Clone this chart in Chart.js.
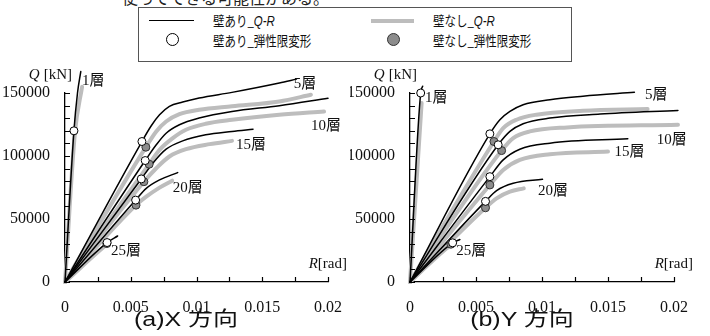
<!DOCTYPE html>
<html lang="ja">
<head>
<meta charset="utf-8">
<script src="https://cdn.jsdelivr.net/npm/chart.js@4.4.1/dist/chart.umd.min.js"></script>
<style>
    html, body { margin: 0; padding: 0; background: #fff; }
    #page { position: relative; width: 710px; height: 336px; overflow: hidden; font-family: 'Noto Sans CJK JP', sans-serif; color: #111; }
    #page canvas { position: absolute; top: 0; }
    #chartX { left: 0; }
    #chartY { left: 350px; }
    .cut { position: absolute; left: 122px; top: -15px; font-size: 16px; white-space: nowrap; color: #222; }
    #legend { position: absolute; left: 138px; top: 7px; width: 434px; height: 55px; box-sizing: border-box; border: 1px solid #555; background: #fff; }
    #legend .row { position: absolute; left: 0; right: 0; height: 20px; }
    #legend .txt { position: absolute; top: 0; line-height: 20px; font-size: 14px; white-space: nowrap; transform: scaleX(0.82); transform-origin: left center; }
    #legend .txt i { font-family: 'Liberation Sans', sans-serif; }
    #legend .ln { position: absolute; top: 10px; }
    #legend .dot { position: absolute; top: 3px; width: 13px; height: 13px; border-radius: 50%; box-sizing: border-box; }
    .title { position: absolute; top: 306px; width: 200px; text-align: center; font-family: 'Liberation Sans', 'Noto Sans CJK JP', sans-serif; font-size: 20px; line-height: 26px; transform: scaleX(1.25); white-space: nowrap; }
</style>
</head>
<body>
<div id="page">
    <div class="cut">使ってできる可能性がある。</div>
    <canvas id="chartX" width="350" height="336"></canvas>
    <canvas id="chartY" width="360" height="336"></canvas>
    <div id="legend">
        <div class="row" style="top:2px">
            <span class="ln" style="left:10px;width:45px;border-top:1.5px solid #000"></span>
            <span class="txt" style="left:74px">壁あり_<i>Q-R</i></span>
            <span class="ln" style="left:232px;width:43px;border-top:4px solid #bdbdbd;margin-top:-1px"></span>
            <span class="txt" style="left:294px">壁なし_<i>Q-R</i></span>
        </div>
        <div class="row" style="top:22px">
            <span class="dot" style="left:27px;background:#fff;border:1px solid #000"></span>
            <span class="txt" style="left:74px">壁あり_弾性限変形</span>
            <span class="dot" style="left:248px;background:#8c8c8c;border:1px solid #333"></span>
            <span class="txt" style="left:294px">壁なし_弾性限変形</span>
        </div>
    </div>
    <div class="title" style="left:86px">(a)X 方向</div>
    <div class="title" style="left:422px">(b)Y 方向</div>
</div>

<script>
// Q-R曲線 (R[rad], Q[kN]) - X方向
const X_WALL_1F = [[0, 0], [0.00068, 120000], [0.00095, 150000], [0.0012, 167000]];
const X_BARE_1F = [[0, 0], [0.00075, 118000], [0.0013, 155000]];
const X_WALL_5F = [[0, 0], [0.00585, 111500], [0.00656, 124000], [0.00719, 132700], [0.00794, 139400], [0.00895, 142800], [0.0102, 146000], [0.0127, 150500], [0.0163, 157900], [0.0176, 161000]];
const X_BARE_5F = [[0, 0], [0.00615, 107000], [0.00694, 119500], [0.00769, 127400], [0.0087, 133200], [0.0102, 136700], [0.0127, 139500], [0.0163, 143300], [0.0187, 148600]];
const X_WALL_10F = [[0, 0], [0.0061, 96400], [0.00694, 108900], [0.00769, 118100], [0.0087, 124800], [0.0102, 130100], [0.0127, 135300], [0.0163, 139900], [0.02, 145800]];
const X_BARE_10F = [[0, 0], [0.0064, 93500], [0.00719, 104900], [0.0082, 114200], [0.0092, 120800], [0.0107, 125600], [0.0127, 128700], [0.0163, 132700], [0.0197, 135300]];
const X_WALL_15F = [[0, 0], [0.0058, 81800], [0.00668, 94300], [0.00769, 105400], [0.00895, 112000], [0.0107, 116800], [0.0127, 119500], [0.0143, 121300]];
const X_BARE_15F = [[0, 0], [0.006, 79600], [0.00694, 90300], [0.00794, 99600], [0.0092, 105400], [0.011, 109400], [0.0127, 112000]];
const X_WALL_20F = [[0, 0], [0.00537, 65000], [0.00618, 74300], [0.00719, 81000], [0.00857, 86800]];
const X_BARE_20F = [[0, 0], [0.0054, 61000], [0.00618, 67700], [0.00719, 74900], [0.00815, 80400]];
const X_WALL_25F = [[0, 0], [0.0032, 31300], [0.004, 36500]];
const X_BARE_25F = [[0, 0], [0.00315, 29500], [0.0034, 31500]];

// 弾性限変形 - X方向
const X_WALL_YIELD = [[0.00068, 120000], [0.00585, 111500], [0.0061, 96400], [0.0058, 81800], [0.00537, 65000], [0.0032, 31300]];
const X_BARE_YIELD = [[0.00615, 107000], [0.0064, 93500], [0.006, 79600], [0.0054, 61000], [0.00318, 30500]];

// Q-R曲線 - Y方向
const Y_WALL_1F = [[0, 0], [0.00081, 150000], [0.00096, 155300]];
const Y_BARE_1F = [[0, 0], [0.00088, 142000]];
const Y_WALL_5F = [[0, 0], [0.00605, 117600], [0.00681, 128800], [0.00757, 135400], [0.00857, 140700], [0.0106, 144700], [0.0131, 147400], [0.017, 150500]];
const Y_BARE_5F = [[0, 0], [0.00636, 111500], [0.00706, 122100], [0.00807, 128800], [0.00958, 132800], [0.0131, 135900], [0.018, 137300]];
const Y_WALL_10F = [[0, 0], [0.00668, 108900], [0.00757, 119500], [0.00857, 125600], [0.0106, 130100], [0.0144, 133300], [0.0203, 136200]];
const Y_BARE_10F = [[0, 0], [0.00694, 104300], [0.00782, 114200], [0.00908, 119500], [0.0119, 122700], [0.0203, 124800]];
const Y_WALL_15F = [[0, 0], [0.00605, 83600], [0.00706, 96900], [0.00832, 105400], [0.0106, 110200], [0.0165, 113600]];
const Y_BARE_15F = [[0, 0], [0.00605, 77000], [0.00706, 88900], [0.00832, 96900], [0.0106, 101400], [0.015, 103500]];
const Y_WALL_20F = [[0, 0], [0.00572, 64000], [0.00656, 72500], [0.00782, 78300], [0.01004, 81500]];
const Y_BARE_20F = [[0, 0], [0.00572, 58900], [0.00656, 66400], [0.00757, 71700], [0.00862, 74300]];
const Y_WALL_25F = [[0, 0], [0.00323, 31100], [0.00378, 33700]];
const Y_BARE_25F = [[0, 0], [0.0031, 29500], [0.0033, 30800]];

// 弾性限変形 - Y方向
const Y_WALL_YIELD = [[0.00081, 150000], [0.00605, 117600], [0.00668, 108900], [0.00605, 83600], [0.00572, 64000], [0.00323, 31100]];
const Y_BARE_YIELD = [[0.00636, 111500], [0.00694, 104300], [0.00605, 77000], [0.00572, 58900], [0.0031, 30000]];

// 階ラベル (文字, 左端R, 中心Q)
const FLOOR_TEXT = ['1層', '5層', '10層', '15層', '20層', '25層'];
const X_TAG_R = [0.00129, 0.0174, 0.0187, 0.013, 0.0082, 0.0035];
const X_TAG_Q = [159200, 157400, 123400, 108800, 74600, 24700];
const Y_TAG_R = [0.00114, 0.0178, 0.0187, 0.0155, 0.0097, 0.0035];
const Y_TAG_Q = [146000, 148600, 112800, 103500, 72400, 24700];

// 軸目盛
const R_MAX = 0.02;
const R_STEP = 0.0025;
const R_LABEL_STEP = 0.005;
const Q_MAX = 150000;
const Q_STEP = 10000;
const Q_LABEL_STEP = 50000;

const SERIF = "'Liberation Serif', 'Noto Sans CJK JP', serif";
const WALL_COLOR = '#000';
const BARE_COLOR = '#bdbdbd';

function toPoints(pairs) {
    return pairs.map(p => ({ x: p[0], y: p[1] }));
}

function lineSet(pairs, color, width, order) {
    return {
        data: toPoints(pairs),
        showLine: true,
        borderColor: color,
        borderWidth: width,
        pointRadius: 0,
        tension: 0.4,
        cubicInterpolationMode: 'monotone',
        borderCapStyle: 'round',
        clip: false,
        order
    };
}

function dotSet(pairs, fill, stroke) {
    return {
        data: toPoints(pairs),
        showLine: false,
        pointRadius: 4,
        pointBackgroundColor: fill,
        pointBorderColor: stroke,
        pointBorderWidth: 1,
        clip: false,
        order: 0
    };
}

const axisDecor = {
    id: 'axisDecor',
    afterDraw(chart) {
        const { ctx, chartArea, scales } = chart;
        const x = scales.x;
        const y = scales.y;
        ctx.save();
        ctx.strokeStyle = '#000';
        ctx.lineWidth = 1.2;
        ctx.beginPath();
        x.ticks.forEach(t => {
            const px = Math.round(x.getPixelForValue(t.value)) + 0.5;
            ctx.moveTo(px, chartArea.bottom);
            ctx.lineTo(px, chartArea.bottom - 5);
        });
        y.ticks.forEach(t => {
            const py = Math.round(y.getPixelForValue(t.value)) + 0.5;
            ctx.moveTo(chartArea.left, py);
            ctx.lineTo(chartArea.left + 5, py);
        });
        ctx.stroke();

        ctx.fillStyle = '#111';
        ctx.textBaseline = 'middle';
        ctx.textAlign = 'right';
        // Q [kN]
        ctx.font = '15px ' + SERIF;
        const qEnd = chartArea.left + 7;
        const unitW = ctx.measureText('[kN]').width;
        ctx.fillText('[kN]', qEnd, chartArea.top - 18);
        ctx.font = 'italic 15px ' + SERIF;
        ctx.fillText('Q', qEnd - unitW - 4, chartArea.top - 18);
        // R[rad]
        ctx.font = '15px ' + SERIF;
        const rEnd = chartArea.right + 19;
        const radW = ctx.measureText('[rad]').width;
        ctx.fillText('[rad]', rEnd, chartArea.bottom - 18);
        ctx.font = 'italic 15px ' + SERIF;
        ctx.fillText('R', rEnd - radW, chartArea.bottom - 18);
        ctx.restore();
    }
};

function floorTags(rs, qs) {
    return {
        id: 'floorTags',
        afterDatasetsDraw(chart) {
            const { ctx, scales } = chart;
            ctx.save();
            ctx.font = '15px ' + SERIF;
            ctx.fillStyle = '#111';
            ctx.textAlign = 'left';
            ctx.textBaseline = 'middle';
            FLOOR_TEXT.forEach((label, i) => {
                ctx.fillText(label, scales.x.getPixelForValue(rs[i]), scales.y.getPixelForValue(qs[i]));
            });
            ctx.restore();
        }
    };
}

function buildChart(canvasId, wallCurves, bareCurves, wallDots, bareDots, tagR, tagQ, yAxisWidth, rightPad) {
    const datasets = [
        dotSet(wallDots, '#fff', '#000'),
        dotSet(bareDots, '#8c8c8c', '#333')
    ];
    wallCurves.forEach(c => datasets.push(lineSet(c, WALL_COLOR, 1.5, 1)));
    bareCurves.forEach(c => datasets.push(lineSet(c, BARE_COLOR, 4, 2)));

    return new Chart(document.getElementById(canvasId), {
        type: 'scatter',
        data: { datasets },
        options: {
            responsive: false,
            animation: false,
            events: [],
            layout: { padding: { top: 93, right: rightPad, bottom: 0, left: 0 } },
            plugins: {
                legend: { display: false },
                tooltip: { enabled: false }
            },
            scales: {
                x: {
                    type: 'linear',
                    min: 0,
                    max: R_MAX,
                    grid: { display: false },
                    border: { display: true, color: '#000', width: 1.3 },
                    afterFit: s => { s.height = 54; },
                    ticks: {
                        stepSize: R_STEP,
                        autoSkip: false,
                        maxRotation: 0,
                        minRotation: 0,
                        padding: 8,
                        color: '#111',
                        font: { family: SERIF, size: 16 },
                        callback: v => {
                            const k = Math.round(v / R_STEP);
                            return k % Math.round(R_LABEL_STEP / R_STEP) === 0 ? String(+v.toFixed(4)) : '';
                        }
                    }
                },
                y: {
                    type: 'linear',
                    min: 0,
                    max: Q_MAX,
                    grid: { display: false },
                    border: { display: true, color: '#000', width: 1.3 },
                    afterFit: s => { s.width = yAxisWidth; },
                    ticks: {
                        stepSize: Q_STEP,
                        autoSkip: false,
                        maxTicksLimit: 100,
                        padding: 7,
                        color: '#111',
                        font: { family: SERIF, size: 16 },
                        callback: v => (v % Q_LABEL_STEP === 0 ? String(v) : '')
                    }
                }
            }
        },
        plugins: [axisDecor, floorTags(tagR, tagQ)]
    });
}

buildChart('chartX',
    [X_WALL_1F, X_WALL_5F, X_WALL_10F, X_WALL_15F, X_WALL_20F, X_WALL_25F],
    [X_BARE_1F, X_BARE_5F, X_BARE_10F, X_BARE_15F, X_BARE_20F, X_BARE_25F],
    X_WALL_YIELD, X_BARE_YIELD, X_TAG_R, X_TAG_Q, 65, 21);

buildChart('chartY',
    [Y_WALL_1F, Y_WALL_5F, Y_WALL_10F, Y_WALL_15F, Y_WALL_20F, Y_WALL_25F],
    [Y_BARE_1F, Y_BARE_5F, Y_BARE_10F, Y_BARE_15F, Y_BARE_20F, Y_BARE_25F],
    Y_WALL_YIELD, Y_BARE_YIELD, Y_TAG_R, Y_TAG_Q, 60, 36);
</script>
</body>
</html>
